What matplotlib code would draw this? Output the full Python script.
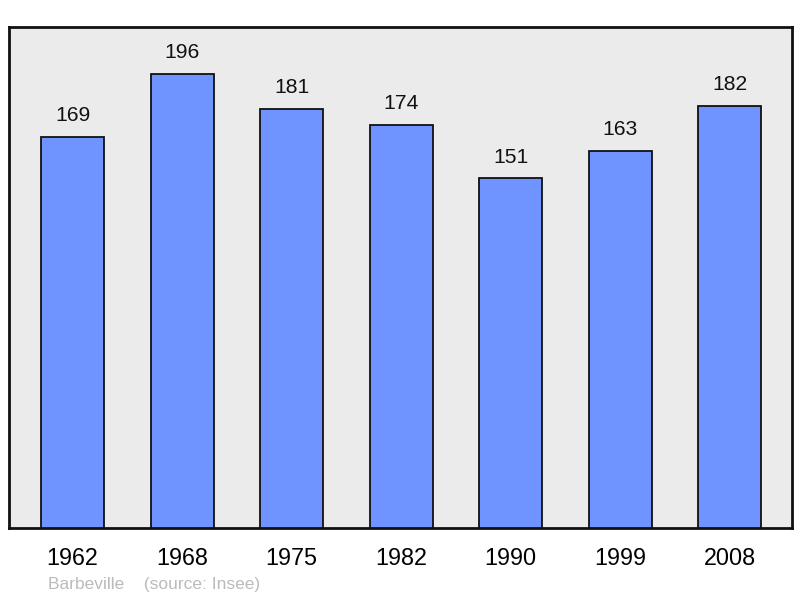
import matplotlib.pyplot as plt

plt.rcParams['font.family'] = ['Liberation Sans', 'DejaVu Sans']

# données
years = ['1962', '1968', '1975', '1982', '1990', '1999', '2008']
population = [169, 196, 181, 174, 151, 163, 182]

fig = plt.figure(figsize=(8, 5.98), dpi=100)
ax = fig.add_axes([9 / 800, 70 / 598, 783 / 800, 501 / 598])
ax.set_facecolor('#ebebeb')

x = range(len(years))
ax.bar(x, population, width=0.575, color='#7094ff', edgecolor='#111111', linewidth=1.3, zorder=2)

for i, v in enumerate(population):
    ax.annotate(str(v), (i, v), xytext=(0, 8.5), textcoords='offset points',
                ha='center', va='bottom', fontsize=15.2, color='#111111')

ax.set_xlim(-0.58, 6.57)
ax.set_ylim(1, 216)
ax.set_yticks([])
ax.set_xticks(list(x))
ax.set_xticklabels(years, fontsize=16.8)
ax.tick_params(axis='x', length=0, pad=13.5)
for s in ax.spines.values():
    s.set_linewidth(2)
    s.set_color('#111111')

fig.text(48 / 800, 1 - 584 / 598, 'Barbeville    (source: Insee)', fontsize=12.5,
         color='#bbbbbb', va='center', ha='left')

fig.savefig('out.png')
